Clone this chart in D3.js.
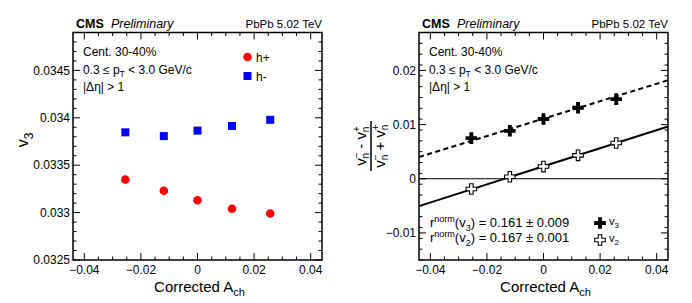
<!DOCTYPE html>
<html>
<head>
<meta charset="utf-8">
<script src="https://cdn.jsdelivr.net/npm/d3@7"></script>
<style>
  body { margin: 0; background: #fff; }
  svg { display: block; font-family: "Liberation Sans", Arial, sans-serif; }
</style>
</head>
<body>
<script>
// ---- data ----
var achValues = [-0.0255, -0.0119, 0.0, 0.0122, 0.0257];
var v3Plus = [0.03335, 0.03323, 0.03313, 0.03304, 0.03299];
var v3Minus = [0.033847, 0.033807, 0.033865, 0.033914, 0.033979];

var asymV3 = [0.0075, 0.00885, 0.01104, 0.01311, 0.0147];
var asymV2 = [-0.0019, 0.00037, 0.00225, 0.00432, 0.0066];

// linear fits: [slope, intercept]
var fitV3 = [0.161, 0.0111];
var fitV2 = [0.167, 0.0023];

var xTicks = [-0.04, -0.02, 0, 0.02, 0.04];
var leftYTicks = [0.0325, 0.033, 0.0335, 0.034, 0.0345];
var rightYTicks = [-0.01, 0, 0.01, 0.02];

var W = 692, H = 303;
var svg = d3.select("body").append("svg").attr("width", W).attr("height", H);

var frame = { top: 32.5, bottom: 260, left: 73, width: 249 };

function drawPanel(ox, yDomain, yMajor, yMinorStep, yFmt) {
    var g = svg.append("g").attr("transform", "translate(" + ox + ",0)");
    var x = d3.scaleLinear().domain([-0.044, 0.044]).range([frame.left, frame.left + frame.width]);
    var y = d3.scaleLinear().domain(yDomain).range([frame.bottom, frame.top]);

    var xMinor = d3.range(-0.04, 0.0401, 0.005).filter(function (v) {
        return xTicks.every(function (t) { return Math.abs(t - v) > 1e-9; });
    });
    var yMinor = d3.range(yDomain[0], yDomain[1] + 1e-9, yMinorStep).filter(function (v) {
        return yMajor.every(function (t) { return Math.abs(t - v) > 1e-9; });
    });

    var ticks = g.append("g").attr("stroke", "#000").attr("stroke-width", 1);
    function addTicks(vals, len) {
        vals.forEach(function (v) {
            var px = x(v);
            ticks.append("line").attr("x1", px).attr("x2", px).attr("y1", frame.bottom).attr("y2", frame.bottom - len);
            ticks.append("line").attr("x1", px).attr("x2", px).attr("y1", frame.top).attr("y2", frame.top + len);
        });
    }
    function addYTicks(vals, len) {
        vals.forEach(function (v) {
            var py = y(v);
            ticks.append("line").attr("y1", py).attr("y2", py).attr("x1", frame.left).attr("x2", frame.left + len);
            ticks.append("line").attr("y1", py).attr("y2", py)
                .attr("x1", frame.left + frame.width).attr("x2", frame.left + frame.width - len);
        });
    }
    addTicks(xTicks, 7);
    addTicks(xMinor, 3.5);
    addYTicks(yMajor, 7);
    addYTicks(yMinor, 3.5);

    g.append("rect")
        .attr("x", frame.left).attr("y", frame.top)
        .attr("width", frame.width).attr("height", frame.bottom - frame.top)
        .attr("fill", "none").attr("stroke", "#000").attr("stroke-width", 1.5);

    // tick labels
    g.selectAll("text.xl").data(xTicks).enter().append("text")
        .attr("class", "xl")
        .attr("x", function (d) { return x(d); })
        .attr("y", 274)
        .attr("text-anchor", "middle")
        .attr("font-size", 12)
        .text(function (d) { return d === 0 ? "0" : d3.format("")(d).replace("-", "\u2212"); });

    g.selectAll("text.yl").data(yMajor).enter().append("text")
        .attr("class", "yl")
        .attr("x", frame.left - 3)
        .attr("y", function (d) { return y(d) + 4.2; })
        .attr("text-anchor", "end")
        .attr("font-size", 12)
        .text(yFmt);

    // axis title
    var xt = g.append("text").attr("x", (frame.left + frame.left + frame.width) / 2 + 2).attr("y", 292)
        .attr("text-anchor", "middle").attr("font-size", 15);
    xt.append("tspan").text("Corrected A");
    xt.append("tspan").attr("font-size", 11).attr("dy", 4).text("ch");

    // header
    g.append("text").attr("x", 76).attr("y", 28).attr("font-size", 12.5)
        .attr("font-weight", "bold").text("CMS");
    g.append("text").attr("x", 111).attr("y", 28).attr("font-size", 12.5)
        .attr("font-style", "italic").text("Preliminary");
    g.append("text").attr("x", 322).attr("y", 28).attr("font-size", 11.5)
        .attr("text-anchor", "end").text("PbPb 5.02 TeV");

    // annotations
    g.append("text").attr("x", 83).attr("y", 56).attr("font-size", 12).text("Cent. 30-40%");
    var pt = g.append("text").attr("x", 83).attr("y", 73.5).attr("font-size", 12);
    pt.append("tspan").text("0.3 \u2264 p");
    pt.append("tspan").attr("font-size", 8.5).attr("dy", 3.5).text("T");
    pt.append("tspan").attr("dy", -3.5).text(" < 3.0 GeV/c");
    g.append("text").attr("x", 83).attr("y", 91).attr("font-size", 12).text("|\u0394\u03b7| > 1");

    return { g: g, x: x, y: y };
}

// ---------- left panel ----------
var L = drawPanel(0, [0.0325, 0.0349], leftYTicks, 0.0001, function (d) { return String(+d.toFixed(4)); });

L.g.selectAll("circle.hp").data(achValues).enter().append("circle")
    .attr("class", "hp")
    .attr("cx", function (d) { return L.x(d); })
    .attr("cy", function (d, i) { return L.y(v3Plus[i]); })
    .attr("r", 4.3).attr("fill", "#ff0000");

L.g.selectAll("rect.hm").data(achValues).enter().append("rect")
    .attr("class", "hm")
    .attr("x", function (d) { return L.x(d) - 4; })
    .attr("y", function (d, i) { return L.y(v3Minus[i]) - 4; })
    .attr("width", 8).attr("height", 8).attr("fill", "#0000ff");

L.g.append("circle").attr("cx", 247.5).attr("cy", 57).attr("r", 4.3).attr("fill", "#ff0000");
L.g.append("text").attr("x", 256).attr("y", 61.5).attr("font-size", 12).text("h+");
L.g.append("rect").attr("x", 243.5).attr("y", 72).attr("width", 8).attr("height", 8).attr("fill", "#0000ff");
L.g.append("text").attr("x", 256).attr("y", 80.5).attr("font-size", 12).text("h-");

var yl = L.g.append("text").attr("transform", "translate(28,140) rotate(-90)")
    .attr("text-anchor", "middle").attr("font-size", 16);
yl.append("tspan").text("v");
yl.append("tspan").attr("font-size", 12).attr("dy", 4.5).text("3");

// ---------- right panel ----------
var R = drawPanel(346, [-0.015, 0.027], rightYTicks, 0.002, function (d) { return String(+d.toFixed(3)).replace("-", "\u2212"); });

// zero line
R.g.append("line")
    .attr("x1", R.x(-0.044)).attr("x2", R.x(0.044))
    .attr("y1", R.y(0)).attr("y2", R.y(0))
    .attr("stroke", "#000").attr("stroke-width", 1);

var fitX = [-0.044, 0.044];
var line = d3.line()
    .x(function (d) { return R.x(d[0]); })
    .y(function (d) { return R.y(d[1]); });

R.g.append("path")
    .attr("d", line(fitX.map(function (a) { return [a, fitV3[0] * a + fitV3[1]]; })))
    .attr("fill", "none").attr("stroke", "#000").attr("stroke-width", 2)
    .attr("stroke-dasharray", "5,3.5");

R.g.append("path")
    .attr("d", line(fitX.map(function (a) { return [a, fitV2[0] * a + fitV2[1]]; })))
    .attr("fill", "none").attr("stroke", "#000").attr("stroke-width", 2);

var crossFilled = d3.symbol().type(d3.symbolCross).size(75);
var crossOpen = d3.symbol().type(d3.symbolCross).size(62);

R.g.selectAll("path.v3").data(achValues).enter().append("path")
    .attr("class", "v3")
    .attr("transform", function (d, i) { return "translate(" + R.x(d) + "," + R.y(asymV3[i]) + ")"; })
    .attr("d", crossFilled).attr("fill", "#000");

R.g.selectAll("path.v2").data(achValues).enter().append("path")
    .attr("class", "v2")
    .attr("transform", function (d, i) { return "translate(" + R.x(d) + "," + R.y(asymV2[i]) + ")"; })
    .attr("d", crossOpen).attr("fill", "#fff").attr("stroke", "#000").attr("stroke-width", 1.1);

// fit legend
function rnormText(yPos, sub, val) {
    var t = R.g.append("text").attr("x", 84).attr("y", yPos).attr("font-size", 13);
    t.append("tspan").text("r");
    t.append("tspan").attr("font-size", 9).attr("dy", -5).text("norm");
    t.append("tspan").attr("dy", 5).text("(v");
    t.append("tspan").attr("font-size", 9).attr("dy", 4).text(sub);
    t.append("tspan").attr("dy", -4).text(") = " + val);
}
rnormText(227, "3", "0.161 \u00b1 0.009");
rnormText(242, "2", "0.167 \u00b1 0.001");

R.g.append("path").attr("transform", "translate(254,223)").attr("d", crossFilled).attr("fill", "#000");
R.g.append("path").attr("transform", "translate(254,240)").attr("d", crossOpen)
    .attr("fill", "#fff").attr("stroke", "#000").attr("stroke-width", 1.1);
function legLabel(yPos, sub) {
    var t = R.g.append("text").attr("x", 263).attr("y", yPos).attr("font-size", 11);
    t.append("tspan").text("v");
    t.append("tspan").attr("font-size", 8).attr("dy", 3).text(sub);
}
legLabel(225, "3");
legLabel(242, "2");

// fraction y label
var fl = R.g.append("g").attr("transform", "translate(25,146) rotate(-90)");
function vnLabel(yPos, op) {
    var t = fl.append("text").attr("x", 0).attr("y", yPos).attr("text-anchor", "middle").attr("font-size", 15);
    t.append("tspan").text("v");
    t.append("tspan").attr("font-size", 10).attr("dy", -6).text("\u2212");
    t.append("tspan").attr("font-size", 10).attr("dx", -6).attr("dy", 9).text("n");
    t.append("tspan").attr("dy", -3).text(" " + op + " v");
    t.append("tspan").attr("font-size", 10).attr("dy", -6).text("+");
    t.append("tspan").attr("font-size", 10).attr("dx", -6).attr("dy", 9).text("n");
}
vnLabel(-5, "-");
vnLabel(14, "+");
fl.append("line").attr("x1", -25).attr("x2", 25).attr("y1", 0).attr("y2", 0)
    .attr("stroke", "#000").attr("stroke-width", 1.5);
</script>
</body>
</html>
